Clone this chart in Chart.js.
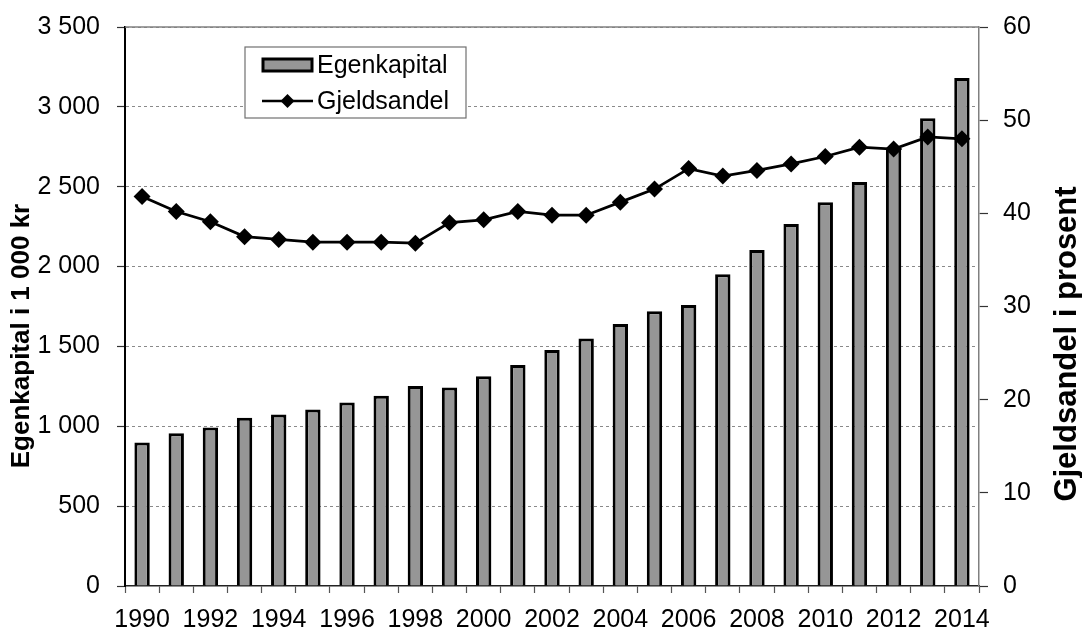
<!DOCTYPE html>
<html>
<head>
<meta charset="utf-8">
<script src="https://cdn.jsdelivr.net/npm/chart.js@4.4.1/dist/chart.umd.min.js"></script>
<style>
  html, body { margin: 0; padding: 0; background: #fff; }
  #wrap { width: 1082px; height: 628px; }
</style>
</head>
<body>
<div id="wrap"><canvas id="chart"></canvas></div>
<script>
'use strict';
(function () {
    // data
    var years = ['1990', '1991', '1992', '1993', '1994', '1995', '1996', '1997', '1998', '1999',
        '2000', '2001', '2002', '2003', '2004', '2005', '2006', '2007', '2008', '2009',
        '2010', '2011', '2012', '2013', '2014'];
    var egenkapital = [898, 956, 992, 1053, 1074, 1105, 1149, 1191, 1252, 1243,
        1313, 1383, 1477, 1550, 1640, 1721, 1759, 1952, 2103, 2266,
        2402, 2529, 2740, 2928, 3180];
    var gjeldsandel = [41.8, 40.2, 39.1, 37.5, 37.2, 36.9, 36.9, 36.9, 36.8, 39.0,
        39.3, 40.2, 39.8, 39.8, 41.2, 42.6, 44.8, 44.0, 44.6, 45.3,
        46.1, 47.1, 46.9, 48.2, 48.0];
    var leftTicks = [0, 500, 1000, 1500, 2000, 2500, 3000, 3500];
    var rightTicks = [0, 10, 20, 30, 40, 50, 60];

    var FONT = "'Liberation Sans', Arial, sans-serif";
    var BAR_FILL = '#969696';

    // tusenskille med mellomrom, som i originalen
    function fmt(v) {
        return String(v).replace(/\B(?=(\d{3})+(?!\d))/g, ' ');
    }

    // fast bredde på y-aksene, og ikke la etikettene skyve plottet ned
    function fixY(width) {
        return function (s) {
            s.width = width;
            s.paddingTop = 8;
            s.paddingBottom = 8;
        };
    }

    // ramme, aksetitler og forklaring tegnes for hand
    var extras = {
        id: 'extras',
        afterDraw: function (chart) {
            var ctx = chart.ctx;
            var a = chart.chartArea;
            ctx.save();

            // toppkant
            ctx.strokeStyle = '#808080';
            ctx.lineWidth = 1.5;
            ctx.beginPath();
            ctx.moveTo(a.left, a.top);
            ctx.lineTo(a.right, a.top);
            ctx.stroke();

            // aksetitler
            ctx.fillStyle = '#000';
            ctx.textAlign = 'center';
            ctx.textBaseline = 'alphabetic';
            ctx.font = 'bold 26px ' + FONT;
            ctx.save();
            ctx.translate(29, 336);
            ctx.rotate(-Math.PI / 2);
            ctx.fillText('Egenkapital i 1 000 kr', 0, 0);
            ctx.restore();

            ctx.font = 'bold 31px ' + FONT;
            ctx.save();
            ctx.translate(1076, 344);
            ctx.rotate(-Math.PI / 2);
            ctx.fillText('Gjeldsandel i prosent', 0, 0);
            ctx.restore();

            // forklaring
            var bx = 245, by = 47, bw = 221, bh = 71;
            ctx.fillStyle = '#fff';
            ctx.fillRect(bx, by, bw, bh);
            ctx.strokeStyle = '#707070';
            ctx.lineWidth = 1.2;
            ctx.strokeRect(bx, by, bw, bh);

            ctx.fillStyle = BAR_FILL;
            ctx.fillRect(263, 59, 49, 12);
            ctx.strokeStyle = '#000';
            ctx.lineWidth = 3;
            ctx.strokeRect(263, 59, 49, 12);

            ctx.lineWidth = 2.5;
            ctx.beginPath();
            ctx.moveTo(262, 101);
            ctx.lineTo(313, 101);
            ctx.stroke();
            ctx.fillStyle = '#000';
            ctx.beginPath();
            ctx.moveTo(287.5, 94);
            ctx.lineTo(294.5, 101);
            ctx.lineTo(287.5, 108);
            ctx.lineTo(280.5, 101);
            ctx.closePath();
            ctx.fill();

            ctx.font = '25px ' + FONT;
            ctx.textAlign = 'left';
            ctx.textBaseline = 'middle';
            ctx.fillText('Egenkapital', 317, 66);
            ctx.fillText('Gjeldsandel', 317, 102);

            ctx.restore();
        }
    };

    var ctx = document.getElementById('chart').getContext('2d');

    var chart = new Chart(ctx, {
        type: 'bar',
        data: {
            labels: years,
            datasets: [{
                type: 'line',
                label: 'Gjeldsandel',
                data: gjeldsandel,
                yAxisID: 'y1',
                borderColor: '#000',
                borderWidth: 2.8,
                backgroundColor: '#000',
                pointStyle: 'rectRot',
                pointRadius: 8.5,
                pointBorderWidth: 0,
                pointBackgroundColor: '#000',
                tension: 0,
                order: 0
            },
            {
                label: 'Egenkapital',
                data: egenkapital,
                yAxisID: 'y',
                backgroundColor: BAR_FILL,
                borderColor: '#000',
                borderWidth: 3,
                borderSkipped: 'start',
                barPercentage: 0.45,
                categoryPercentage: 1,
                order: 1
            }]
        },
        options: {
            responsive: true,
            maintainAspectRatio: false,
            animation: false,
            layout: { padding: { top: 27, left: 0, right: 0, bottom: 0 } },
            plugins: {
                legend: { display: false },
                tooltip: { enabled: false }
            },
            scales: {
                x: {
                    offset: true,
                    afterFit: function (s) { s.height = 42; },
                    grid: {
                        offset: true,
                        drawOnChartArea: false,
                        tickLength: 7,
                        tickColor: '#555',
                        tickWidth: 1.2
                    },
                    border: { color: '#222', width: 1.5 },
                    ticks: {
                        autoSkip: false,
                        maxRotation: 0,
                        padding: 12,
                        color: '#000',
                        font: { family: FONT, size: 25 },
                        callback: function (v, i) { return i % 2 === 0 ? years[i] : ''; }
                    }
                },
                y: {
                    position: 'left',
                    min: 0,
                    max: 3500,
                    afterFit: fixY(125),
                    afterBuildTicks: function (s) {
                        s.ticks = leftTicks.map(function (v) { return { value: v }; });
                    },
                    grid: {
                        color: function (c) { return c.tick && c.tick.value === 0 ? 'rgba(0,0,0,0)' : '#8a8a8a'; },
                        lineWidth: 1,
                        tickColor: '#333',
                        tickWidth: 1.2,
                        tickLength: 8,
                        tickBorderDash: []
                    },
                    border: { color: '#000', width: 2, dash: [3, 3] },
                    ticks: {
                        padding: 17,
                        color: '#000',
                        font: { family: FONT, size: 25 },
                        callback: function (v) { return fmt(v); }
                    }
                },
                y1: {
                    position: 'right',
                    min: 0,
                    max: 60,
                    afterFit: fixY(103),
                    afterBuildTicks: function (s) {
                        s.ticks = rightTicks.map(function (v) { return { value: v }; });
                    },
                    grid: {
                        drawOnChartArea: false,
                        tickColor: '#333',
                        tickWidth: 1.2,
                        tickLength: 9,
                        tickBorderDash: []
                    },
                    border: { color: '#808080', width: 1.5 },
                    ticks: {
                        padding: 15,
                        color: '#000',
                        font: { family: FONT, size: 25 }
                    }
                }
            }
        },
        plugins: [extras]
    });
})();
</script>
</body>
</html>
